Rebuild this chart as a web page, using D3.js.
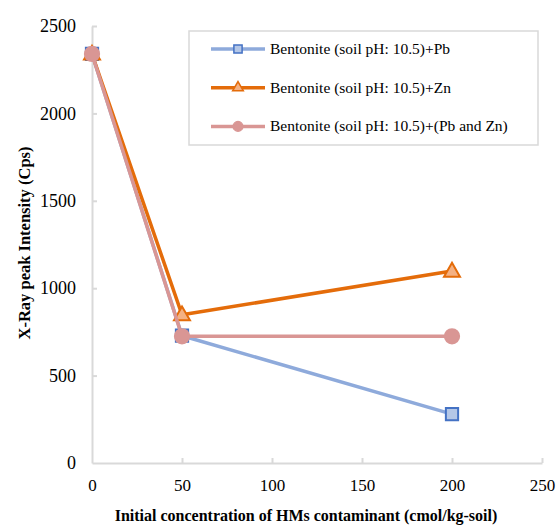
<!DOCTYPE html>
<meta charset="utf-8">
<head>
    <style>
        html, body { margin: 0; padding: 0; background: #fff; }
        svg text { font-family: "Liberation Serif", "Times New Roman", serif; fill: #000; }
    </style>
</head>
<body>
    <svg id="chart" width="557" height="527"></svg>
    <script src="https://cdn.jsdelivr.net/npm/d3@7/dist/d3.min.js"></script>
    <script>
        // values
        let concentrations = [0, 50, 200];
        let pbValues = [2340, 728, 280];
        let znValues = [2340, 848, 1098];
        let pbZnValues = [2340, 725, 725];
        let seriesNames = [
            'Bentonite (soil pH: 10.5)+Pb',
            'Bentonite (soil pH: 10.5)+Zn',
            'Bentonite (soil pH: 10.5)+(Pb and Zn)'
        ];
        let xTicks = [0, 50, 100, 150, 200, 250];
        let yTicks = [0, 500, 1000, 1500, 2000, 2500];

        let serif = '"Liberation Serif", "Times New Roman", serif';

        let series = [
            { name: seriesNames[0], values: pbValues, line: '#8eaadb', fill: '#b4c7e7', stroke: '#4472c4', symbol: 'square' },
            { name: seriesNames[1], values: znValues, line: '#e46c0a', fill: '#f4b183', stroke: '#e46c0a', symbol: 'triangle' },
            { name: seriesNames[2], values: pbZnValues, line: '#d99694', fill: '#d99694', stroke: '#d99694', symbol: 'circle' }
        ];

        let svg = d3.select('#chart');
        let x = d3.scaleLinear().domain([0, 250]).range([92, 542]);
        let y = d3.scaleLinear().domain([0, 2500]).range([463, 26]);

        // axes
        let xAxis = svg.append('g').attr('transform', 'translate(0,' + y(0) + ')')
            .call(d3.axisBottom(x).tickValues(xTicks).tickFormat(d3.format('d'))
                .tickSizeInner(-5).tickSizeOuter(0).tickPadding(16));
        let yAxis = svg.append('g').attr('transform', 'translate(' + x(0) + ',0)')
            .call(d3.axisLeft(y).tickValues(yTicks).tickFormat(d3.format('d'))
                .tickSizeInner(-5).tickSizeOuter(0).tickPadding(16));
        xAxis.attr('font-size', 17);
        yAxis.attr('font-size', 18);
        [xAxis, yAxis].forEach(a => {
            a.attr('font-family', serif);
            a.select('.domain').attr('stroke', '#d9d9d9').attr('stroke-width', 2);
            a.selectAll('.tick line').attr('stroke', '#d9d9d9').attr('stroke-width', 2);
            a.selectAll('.tick text').attr('fill', '#000');
        });
        xAxis.selectAll('.tick').filter(d => d === 0).select('line').remove();
        yAxis.selectAll('.tick').filter(d => d === 0).select('line').remove();

        // titles
        svg.append('text').attr('x', 306).attr('y', 521).attr('text-anchor', 'middle')
            .attr('font-family', serif).style('font-size', '16px').style('font-weight', 'bold')
            .text('Initial concentration of HMs contaminant (cmol/kg-soil)');
        svg.append('text').attr('transform', 'translate(30,243) rotate(-90)').attr('text-anchor', 'middle')
            .attr('font-family', serif).style('font-size', '16.5px').style('font-weight', 'bold')
            .text('X-Ray peak Intensity (Cps)');

        let symbols = { square: d3.symbolSquare, triangle: d3.symbolTriangle, circle: d3.symbolCircle };
        let symbolSize = { square: 150, triangle: 110, circle: 160 };

        function drawMarker(g, s, cx, cy) {
            g.append('path')
                .attr('d', d3.symbol().type(symbols[s.symbol]).size(symbolSize[s.symbol]))
                .attr('transform', 'translate(' + cx + ',' + (s.symbol === 'triangle' ? cy + 1 : cy) + ')')
                .attr('fill', s.fill)
                .attr('stroke', s.stroke)
                .attr('stroke-width', 2);
        }

        let line = d3.line().x((d, i) => x(concentrations[i])).y(d => y(d));
        series.forEach(s => {
            let g = svg.append('g');
            g.append('path').datum(s.values).attr('d', line)
                .attr('fill', 'none').attr('stroke', s.line).attr('stroke-width', 3.5);
            s.values.forEach((v, i) => drawMarker(g, s, x(concentrations[i]), y(v)));
        });

        // legend
        let legend = svg.append('g');
        legend.append('rect').attr('x', 189).attr('y', 31).attr('width', 349).attr('height', 114)
            .attr('fill', '#fff').attr('stroke', '#d9d9d9').attr('stroke-width', 1.5);
        series.forEach((s, i) => {
            let ly = 49 + i * 38.7;
            legend.append('line').attr('x1', 211).attr('x2', 265).attr('y1', ly).attr('y2', ly)
                .attr('stroke', s.line).attr('stroke-width', 3.5);
            legend.append('path')
                .attr('d', d3.symbol().type(symbols[s.symbol]).size(symbolSize[s.symbol] * 0.45))
                .attr('transform', 'translate(238,' + ly + ')')
                .attr('fill', s.fill).attr('stroke', s.stroke).attr('stroke-width', 1.5);
            legend.append('text').attr('x', 270).attr('y', ly + 5)
                .attr('font-family', serif).style('font-size', '15.5px').text(s.name);
        });
    </script>
</body>
</html>
